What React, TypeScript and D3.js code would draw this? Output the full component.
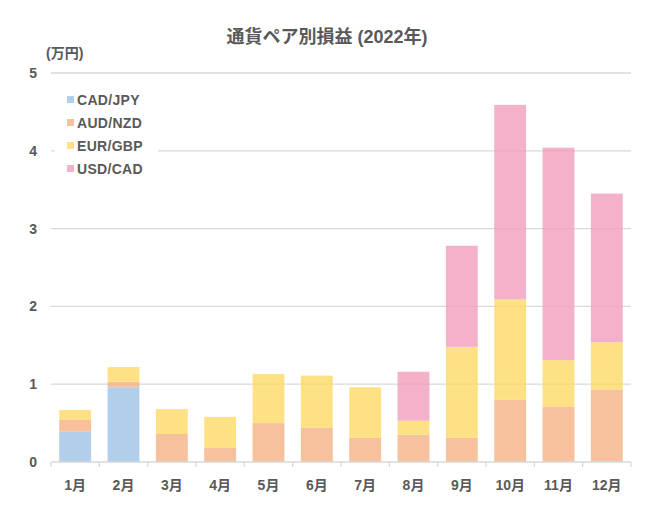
import React from "react";
import * as d3 from "d3";

const months = ["1月", "2月", "3月", "4月", "5月", "6月", "7月", "8月", "9月", "10月", "11月", "12月"];
const seriesNames = ["CAD/JPY", "AUD/NZD", "EUR/GBP", "USD/CAD"];
const cadJpy = [0.39, 0.96, 0, 0, 0, 0, 0, 0, 0, 0, 0, 0.01];
const audNzd = [0.15, 0.07, 0.36, 0.18, 0.5, 0.44, 0.31, 0.35, 0.31, 0.8, 0.71, 0.92];
const eurGbp = [0.13, 0.19, 0.32, 0.4, 0.63, 0.67, 0.65, 0.18, 1.17, 1.29, 0.6, 0.61];
const usdCad = [0, 0, 0, 0, 0, 0, 0, 0.63, 1.3, 2.5, 2.73, 1.91];
const yTicks = [0, 1, 2, 3, 4, 5];
const colors = ["#9dc3e6", "#f4b183", "#ffd966", "#f09ebd"];

const W = 654;
const H = 525;
const margin = { top: 73, right: 23, bottom: 63, left: 51 };
const font = "'Liberation Sans', 'Noto Sans CJK JP', sans-serif";
const textColor = "#595959";

export default function App() {
  const innerW = W - margin.left - margin.right;
  const innerH = H - margin.top - margin.bottom;

  const x = d3.scaleBand().domain(months).range([0, innerW]).paddingInner(0.34).paddingOuter(0.17);
  const y = d3.scaleLinear().domain([0, 5]).range([innerH, 0]);

  const table = months.map((m, i) => ({
    month: m,
    "CAD/JPY": cadJpy[i],
    "AUD/NZD": audNzd[i],
    "EUR/GBP": eurGbp[i],
    "USD/CAD": usdCad[i],
  }));
  const stacked = d3.stack<any>().keys(seriesNames)(table);

  const step = innerW / months.length;
  const boundaries = d3.range(months.length + 1).map((i) => i * step);

  return (
    <div style={{ position: "absolute", left: 0, top: 0 }}>
      <svg width={W} height={H} style={{ background: "#fff", display: "block" }}>
        <text x={327} y={43} textAnchor="middle" fontFamily={font} fontWeight="bold" fontSize={18} fill={textColor}>
          通貨ペア別損益 (2022年)
        </text>
        <text x={46} y={58} fontFamily={font} fontWeight="bold" fontSize={14} fill={textColor}>
          (万円)
        </text>
        <g transform={`translate(${margin.left},${margin.top})`}>
          {yTicks.map((t) => (
            <g key={t}>
              {t > 0 && <line x1={0} x2={innerW} y1={y(t)} y2={y(t)} stroke="#d9d9d9" strokeWidth={1.3} />}
              <text x={-14} y={y(t)} dy="0.35em" textAnchor="end" fontFamily={font} fontWeight="bold" fontSize={14} fill={textColor}>
                {t}
              </text>
            </g>
          ))}
          {stacked.map((s, si) => (
            <g key={s.key} fill={colors[si]} fillOpacity={0.8}>
              {s.map((d, i) =>
                d[1] - d[0] > 0 ? (
                  <rect key={i} x={x(months[i])} y={y(d[1])} width={x.bandwidth()} height={y(d[0]) - y(d[1])} />
                ) : null
              )}
            </g>
          ))}
          <line x1={0} x2={innerW} y1={innerH} y2={innerH} stroke="#d9d9d9" strokeWidth={1.3} />
          {boundaries.map((b, i) => (
            <line key={i} x1={b} x2={b} y1={innerH} y2={innerH + 5} stroke="#d9d9d9" strokeWidth={1.3} />
          ))}
          {months.map((m) => (
            <text key={m} x={x(m)! + x.bandwidth() / 2} y={innerH + 28} textAnchor="middle" fontFamily={font} fontWeight="bold" fontSize={14} fill={textColor}>
              {m}
            </text>
          ))}
        </g>
        <g transform="translate(55,85)">
          <rect x={0} y={0} width={103} height={96} fill="#fff" />
          {seriesNames.map((n, i) => (
            <g key={n} transform={`translate(12,${15 + i * 23})`}>
              <rect x={0} y={-4} width={7} height={7} fill={colors[i]} fillOpacity={0.8} />
              <text x={10} y={0} dy="0.36em" fontFamily={font} fontWeight="bold" fontSize={14} letterSpacing={0.3} fill={textColor}>
                {n}
              </text>
            </g>
          ))}
        </g>
      </svg>
    </div>
  );
}
